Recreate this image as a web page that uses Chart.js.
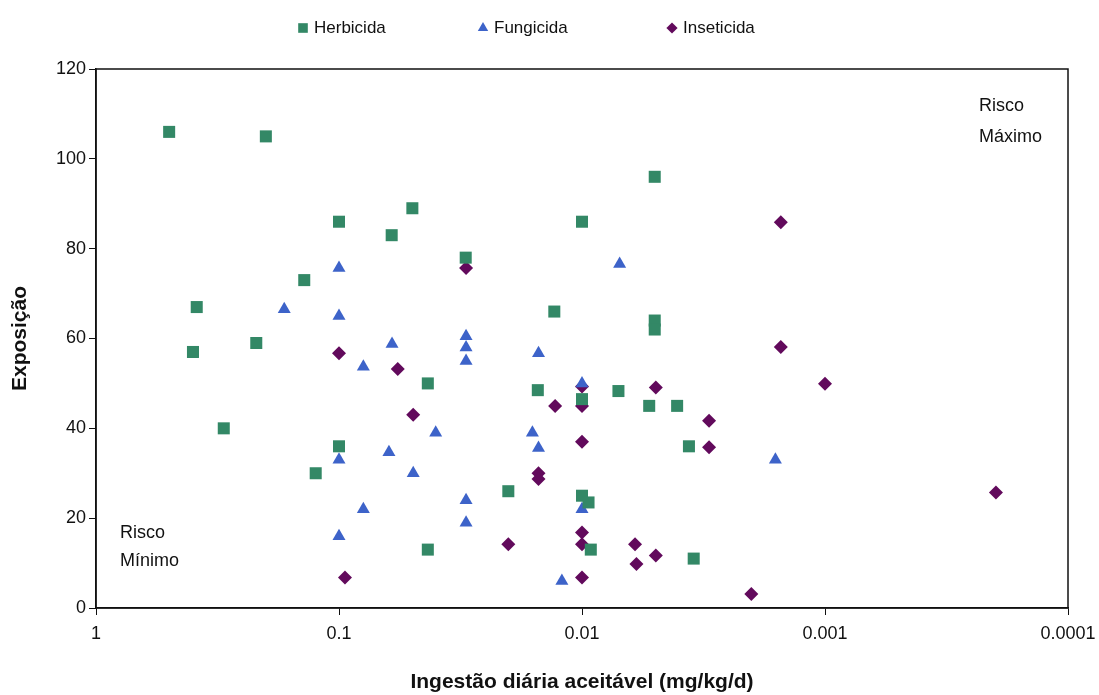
<!DOCTYPE html>
<html>
<head>
<meta charset="utf-8">
<script src="https://cdn.jsdelivr.net/npm/chart.js@4/dist/chart.umd.min.js"></script>
<style>
  html, body { margin: 0; padding: 0; background: #fff; }
  #wrap { width: 1099px; height: 695px; position: relative; }
</style>
</head>
<body>
<div id="wrap"><canvas id="chart"></canvas></div>
<script>
// series (x = ingestão diária aceitável, y = exposição)
const herbX = [0.5, 0.2, 0.1, 0.0607, 0.0499, 0.01, 0.0301, 0.139, 0.385, 0.013, 0.219, 0.399,
  0.298, 0.0431, 0.0152, 0.01, 0.1, 0.1247, 0.0201, 0.0431, 0.01, 0.0094, 0.0092,
  0.00502, 0.00502, 0.00502, 0.00708, 0.00529, 0.00406, 0.00363, 0.00347];
const herbY = [106, 105, 86, 83, 89, 86, 78, 73, 67, 66, 59, 57,
  40, 50, 48.5, 46.5, 36, 30, 26, 13, 25, 23.5, 13,
  96, 64, 62, 48.3, 45, 45, 36, 11];

const fungX = [0.1, 0.168, 0.1, 0.0605, 0.03, 0.03, 0.03, 0.0151, 0.0794, 0.04, 0.016, 0.0151,
  0.0623, 0.1, 0.0495, 0.03, 0.03, 0.0794, 0.1, 0.0121, 0.01, 0.007, 0.0016, 0.01];
const fungY = [75.7, 66.5, 65, 58.8, 60.5, 58, 55, 56.7, 53.7, 39, 39, 35.6,
  34.7, 33, 30, 24, 19, 22, 16, 6, 22, 76.6, 33, 50];

const insX = [0.03, 0.1, 0.0573, 0.0495, 0.01, 0.0129, 0.01, 0.01, 0.0151, 0.0151, 0.0201,
  0.01, 0.01, 0.01, 0.0945, 0.00152, 0.00152, 0.001, 0.00497, 0.003, 0.003, 0.000198,
  0.00605, 0.00597, 0.00497, 0.00201];
const insY = [75.7, 56.7, 53.2, 43, 49.3, 45, 45, 37, 30, 28.7, 14.2,
  16.8, 14.2, 6.8, 6.8, 58.1, 85.9, 49.9, 49.1, 41.7, 35.8, 25.7,
  14.2, 9.8, 11.7, 3.1];

const seriesNames = ['Herbicida', 'Fungicida', 'Inseticida'];
const xTickValues = [1, 0.1, 0.01, 0.001, 0.0001];
const xTickLabels = ['1', '0.1', '0.01', '0.001', '0.0001'];
const yTickValues = [0, 20, 40, 60, 80, 100, 120];

const toPoints = (xs, ys) => xs.map((x, i) => ({ x: x, y: ys[i] }));

const FONT = "'Liberation Sans', Arial, sans-serif";

// plot frame + risk notes
const framePlugin = {
  id: 'frame',
  afterDraw(chart) {
    const { ctx, chartArea: a } = chart;
    ctx.save();
    ctx.strokeStyle = '#111';
    ctx.lineWidth = 1.5;
    ctx.strokeRect(a.left, a.top, a.right - a.left, a.bottom - a.top);
    ctx.fillStyle = '#111';
    ctx.font = '18px ' + FONT;
    ctx.textAlign = 'left';
    ctx.textBaseline = 'middle';
    ctx.fillText('Risco', a.right - 89, a.top + 37);
    ctx.fillText('Máximo', a.right - 89, a.top + 68);
    ctx.fillText('Risco', a.left + 24, a.bottom - 75);
    ctx.fillText('Mínimo', a.left + 24, a.bottom - 47);
    ctx.restore();
  }
};

// legend row at the top
const legendPlugin = {
  id: 'topLegend',
  afterDraw(chart) {
    const { ctx } = chart;
    const starts = [303, 483, 672];
    ctx.save();
    ctx.font = '17px ' + FONT;
    ctx.textBaseline = 'middle';
    ctx.textAlign = 'left';
    chart.data.datasets.forEach((ds, i) => {
      ctx.fillStyle = ds.backgroundColor;
      Chart.helpers.drawPoint(ctx, { pointStyle: ds.pointStyle, radius: ds.pointRadius * 0.8, borderWidth: 0 }, starts[i], 28);
      ctx.fillStyle = '#111';
      ctx.fillText(ds.label, starts[i] + 11, 28);
    });
    ctx.restore();
  }
};

new Chart(document.getElementById('chart'), {
  type: 'scatter',
  data: {
    datasets: [
      { label: seriesNames[0], data: toPoints(herbX, herbY), pointStyle: 'rect', pointRadius: 8.5,
        backgroundColor: '#338866', borderWidth: 0 },
      { label: seriesNames[1], data: toPoints(fungX, fungY), pointStyle: 'triangle', pointRadius: 7.5,
        backgroundColor: '#3d63c9', borderWidth: 0 },
      { label: seriesNames[2], data: toPoints(insX, insY), pointStyle: 'rectRot', pointRadius: 7,
        backgroundColor: '#620a5c', borderWidth: 0 }
    ]
  },
  options: {
    responsive: true,
    maintainAspectRatio: false,
    animation: false,
    layout: { padding: { top: 69, left: 8, right: 31, bottom: 0 } },
    plugins: { legend: { display: false }, tooltip: { enabled: false } },
    scales: {
      x: {
        type: 'logarithmic',
        reverse: true,
        min: 0.0001,
        max: 1,
        afterBuildTicks: (s) => { s.ticks = xTickValues.map(v => ({ value: v })); },
        afterFit: (s) => { s.height = 87; s.paddingRight = 0; s.paddingLeft = 0; },
        ticks: {
          color: '#111',
          font: { family: FONT, size: 18 },
          padding: 8,
          maxRotation: 0,
          autoSkip: false,
          callback: (v) => xTickLabels[xTickValues.indexOf(v)] ?? ''
        },
        grid: { drawOnChartArea: false, drawTicks: true, tickLength: 7, color: '#111' },
        border: { display: true, color: '#111', width: 1.5 },
        title: {
          display: true,
          text: 'Ingestão diária aceitável (mg/kg/d)',
          color: '#111',
          font: { family: FONT, size: 21, weight: 'bold' },
          padding: { top: 0, bottom: 0 }
        }
      },
      y: {
        min: 0,
        max: 120,
        afterBuildTicks: (s) => { s.ticks = yTickValues.map(v => ({ value: v })); },
        afterFit: (s) => { s.width = 88; },
        ticks: {
          color: '#111',
          font: { family: FONT, size: 18 },
          padding: 3
        },
        grid: { drawOnChartArea: false, drawTicks: true, tickLength: 7, color: '#111' },
        border: { display: true, color: '#111', width: 1.5 },
        title: {
          display: true,
          text: 'Exposição',
          color: '#111',
          font: { family: FONT, size: 21, weight: 'bold' },
          padding: { top: 0, bottom: 0 }
        }
      }
    }
  },
  plugins: [framePlugin, legendPlugin]
});
</script>
</body>
</html>
